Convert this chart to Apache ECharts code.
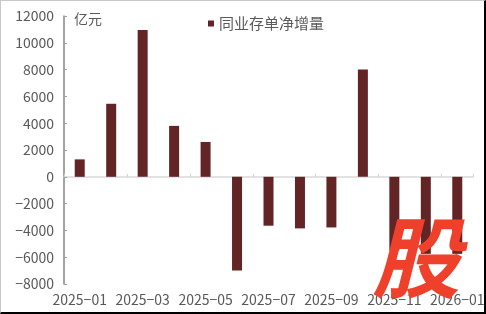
<!DOCTYPE html>
<html>
<head>
<meta charset="utf-8">
<script src="https://cdn.jsdelivr.net/npm/echarts@6/dist/echarts.min.js"></script>
<style>
html,body{margin:0;padding:0;background:#fff;}
#wrap{position:relative;width:486px;height:314px;overflow:hidden;}
#chart{position:absolute;left:0;top:0;width:486px;height:314px;}
#frame{position:absolute;left:0;top:0;width:486px;height:314px;box-sizing:border-box;
  border-top:1px solid #c8c8c8;border-left:1px solid #c8c8c8;border-right:2px solid #000;border-bottom:2px solid #000;pointer-events:none;}
</style>
</head>
<body>
<div id="wrap"><div id="chart"></div><div id="frame"></div></div>
<script>
const categories = ['2025-01','2025-02','2025-03','2025-04','2025-05','2025-06','2025-07','2025-08','2025-09','2025-10','2025-11','2025-12','2026-01'];
const netIncrease = [1300, 5450, 10950, 3800, 2600, -7000, -3650, -3850, -3780, 8000, -5500, -5750, -5750];
const yTicks = { min: -8000, max: 12000, interval: 2000 };
const seriesName = '同业存单净增量';
const unitLabel = '亿元';
const watermark = '股';

const FONT = '"Noto Sans CJK SC", "Noto Sans", sans-serif';
const chart = echarts.init(document.getElementById('chart'), null, {renderer: 'canvas'});
chart.setOption({
  animation: false,
  backgroundColor: '#fff',
  grid: { left: 64, right: 13, top: 16, bottom: 30, containLabel: false, outerBoundsMode: 'none' },
  legend: {
    data: [seriesName], left: 203, top: 11, icon: 'rect', itemWidth: 6, itemHeight: 6, itemGap: 4,
    textStyle: { fontFamily: FONT, fontSize: 15, color: '#595959' }
  },
  xAxis: [{
    type: 'category', data: categories, boundaryGap: true, position: 'bottom',
    axisLine: { show: false, onZero: false },
    axisTick: { show: false },
    axisLabel: { interval: 1, margin: 9, fontFamily: FONT, fontSize: 14, color: '#595959',
      hideOverlap: false, formatter: v => v.replace('-', '\u2212') }
  }, {
    type: 'category', data: categories, boundaryGap: true, position: 'bottom',
    axisLine: { show: true, onZero: true, onZeroAxisIndex: 0, lineStyle: { color: '#d9d9d9', width: 1.5 } },
    axisTick: { show: true, inside: true, length: 3, interval: 1, lineStyle: { color: '#d0d0d0' } },
    axisLabel: { show: false, interval: 1 }
  }],
  yAxis: {
    type: 'value', min: yTicks.min, max: yTicks.max, interval: yTicks.interval,
    axisLine: { show: true, onZero: false, lineStyle: { color: '#868686', width: 1.5 } },
    axisTick: { show: true, inside: true, length: 3, lineStyle: { color: '#a0a0a0' } },
    splitLine: { show: false },
    axisLabel: { margin: 10, fontFamily: FONT, fontSize: 14, color: '#595959',
      formatter: v => String(v).replace('-', '\u2212') }
  },
  series: [{
    name: seriesName, type: 'bar', data: netIncrease, barWidth: 10,
    itemStyle: { color: '#632426' }
  }],
  graphic: [
    { type: 'text', left: 74, top: 12, style: { text: unitLabel, fontFamily: FONT, fontSize: 14, fill: '#595959' } },
    { type: 'text', left: 372, top: 214, z: 100,
      style: { text: watermark, fontFamily: FONT, fontSize: 88, fontWeight: 'bold', fontStyle: 'italic', fill: '#ef402c' } }
  ]
});
</script>
</body>
</html>
